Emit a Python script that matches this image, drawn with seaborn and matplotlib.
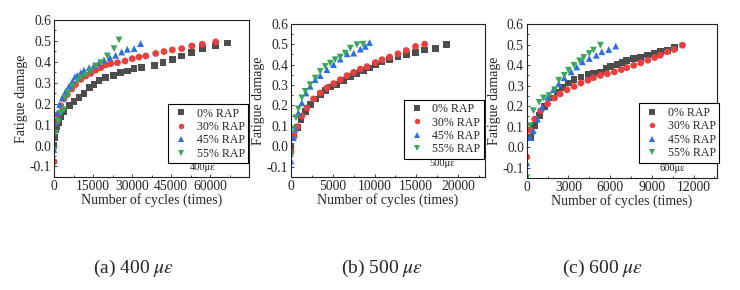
import numpy as np
import pandas as pd
import seaborn as sns
import matplotlib
matplotlib.use("Agg")
import matplotlib.pyplot as plt
from matplotlib.ticker import MultipleLocator

# ---- data: (cycles, fatigue damage) per RAP content ----
# 400 microstrain
c400_0 = [0, 300, 640, 1000, 1700, 2600, 3800, 5800, 7700, 9600, 11500, 13500, 15400, 17300, 19900,
          22800, 25600, 28200, 30800, 33700, 38800, 41900, 45500, 49100, 53000, 57000, 62000, 66700]
d400_0 = [0.0, 0.04, 0.075, 0.09, 0.11, 0.14, 0.163, 0.19, 0.21, 0.228, 0.25, 0.276, 0.292, 0.311, 0.324,
          0.335, 0.348, 0.356, 0.367, 0.372, 0.383, 0.396, 0.41, 0.428, 0.444, 0.463, 0.476, 0.49]
c400_30 = [0, 640, 1300, 2600, 3800, 5100, 6800, 8300, 10300, 12200, 14100, 16000, 18000, 19900, 21800,
           24400, 27300, 30100, 32700, 35300, 39100, 42300, 45500, 49100, 53000, 57000, 62200]
d400_30 = [-0.077, 0.107, 0.147, 0.19, 0.223, 0.244, 0.27, 0.292, 0.316, 0.332, 0.345, 0.36, 0.372, 0.385, 0.391,
           0.396, 0.404, 0.415, 0.423, 0.428, 0.44, 0.449, 0.457, 0.463, 0.476, 0.484, 0.495]
c400_45 = [0, 380, 1300, 2200, 3200, 4500, 5800, 7100, 8100, 9000, 10300, 11500, 13500, 15400, 17300,
           19200, 21500, 23700, 26000, 28200, 30800, 33300]
d400_45 = [-0.02, 0.107, 0.155, 0.196, 0.228, 0.26, 0.284, 0.308, 0.329, 0.335, 0.348, 0.36, 0.372, 0.383, 0.396,
           0.409, 0.42, 0.431, 0.447, 0.46, 0.463, 0.487]
c400_55 = [0, 640, 1700, 2600, 3800, 4200, 5500, 7100, 9000, 10300, 12200, 14100, 16000, 18000, 20500,
           23100, 25000]
d400_55 = [-0.02, 0.06, 0.115, 0.155, 0.171, 0.228, 0.252, 0.284, 0.308, 0.324, 0.335, 0.356, 0.38, 0.396, 0.428,
           0.463, 0.505]

# 500 microstrain
c500_0 = [0, 360, 760, 1200, 1700, 2300, 2900, 3500, 4100, 4700, 5500, 6300, 7100, 7900, 8700, 9400,
          10100, 10900, 11800, 12800, 13800, 14900, 16000, 17300, 18600]
d500_0 = [0.0, 0.05, 0.091, 0.131, 0.172, 0.205, 0.232, 0.253, 0.274, 0.29, 0.302, 0.321, 0.34, 0.356, 0.37, 0.383,
          0.40, 0.416, 0.427, 0.437, 0.448, 0.46, 0.472, 0.48, 0.5]
c500_30 = [0, 360, 760, 1300, 1900, 2700, 3500, 4300, 5100, 5900, 6700, 7500, 8300, 9100, 10100, 10900,
           11800, 12800, 13800, 14900, 16000]
d500_30 = [-0.028, 0.05, 0.096, 0.148, 0.188, 0.232, 0.261, 0.286, 0.307, 0.326, 0.346, 0.362, 0.378, 0.39, 0.41,
           0.424, 0.437, 0.453, 0.469, 0.489, 0.5]
c500_45 = [0, 280, 480, 880, 1300, 1800, 2300, 2900, 3500, 4300, 5100, 5900, 6700, 7500, 8300, 8900, 9400]
d500_45 = [-0.071, 0.042, 0.083, 0.164, 0.213, 0.261, 0.294, 0.326, 0.346, 0.375, 0.40, 0.427, 0.453, 0.456,
           0.476, 0.489, 0.508]
c500_55 = [0, 360, 600, 880, 1300, 1700, 2300, 2900, 3500, 4100, 4700, 5300, 5900, 6500, 7100, 7900, 8600]
d500_55 = [-0.047, 0.086, 0.14, 0.183, 0.237, 0.269, 0.302, 0.334, 0.367, 0.391, 0.407, 0.424, 0.437, 0.456,
           0.48, 0.497, 0.5]

# 600 microstrain
c600_0 = [290, 530, 900, 1300, 1700, 2200, 2600, 3000, 3400, 3900, 4400, 4800, 5300, 5700, 6000, 6500,
          6900, 7200, 7700, 8200, 8700, 9200, 9600, 10100, 10600]
d600_0 = [0.047, 0.105, 0.154, 0.198, 0.24, 0.268, 0.29, 0.313, 0.329, 0.342, 0.355, 0.362, 0.367, 0.383, 0.394,
          0.403, 0.411, 0.424, 0.432, 0.437, 0.449, 0.457, 0.465, 0.473, 0.484]
c600_30 = [0, 240, 580, 1000, 1500, 2000, 2400, 2900, 3400, 3900, 4400, 4800, 5300, 5800, 6300, 6800,
           7200, 7700, 8200, 8700, 9200, 9600, 10100, 10600, 11200]
d600_30 = [-0.047, 0.083, 0.137, 0.178, 0.211, 0.24, 0.26, 0.28, 0.296, 0.313, 0.326, 0.339, 0.35, 0.358, 0.367,
           0.378, 0.388, 0.399, 0.411, 0.424, 0.437, 0.448, 0.465, 0.476, 0.497]
c600_45 = [0, 240, 480, 770, 1100, 1500, 1900, 2300, 2700, 3200, 3600, 4000, 4500, 5000, 5400, 5900, 6400]
d600_45 = [-0.075, 0.047, 0.08, 0.137, 0.195, 0.244, 0.28, 0.309, 0.339, 0.367, 0.391, 0.416, 0.432, 0.448,
           0.465, 0.476, 0.493]
c600_55 = [0, 240, 480, 890, 1200, 1600, 2000, 2300, 2700, 3000, 3400, 3800, 4100, 4500, 4800, 5300]
d600_55 = [-0.149, 0.105, 0.178, 0.219, 0.24, 0.252, 0.28, 0.326, 0.35, 0.375, 0.399, 0.421, 0.437, 0.457,
           0.473, 0.497]

groups = ["0% RAP", "30% RAP", "45% RAP", "55% RAP"]
panels = [
    ("400\u03bc\u03b5", r"(a) 400 $\mu\varepsilon$",
     [(c400_0, d400_0), (c400_30, d400_30), (c400_45, d400_45), (c400_55, d400_55)]),
    ("500\u03bc\u03b5", r"(b) 500 $\mu\varepsilon$",
     [(c500_0, d500_0), (c500_30, d500_30), (c500_45, d500_45), (c500_55, d500_55)]),
    ("600\u03bc\u03b5", r"(c) 600 $\mu\varepsilon$",
     [(c600_0, d600_0), (c600_30, d600_30), (c600_45, d600_45), (c600_55, d600_55)]),
]

palette = {"0% RAP": "#4d4d4d", "30% RAP": "#e8403f", "45% RAP": "#2f6fdb", "55% RAP": "#3aa65c"}
markers = {"0% RAP": "s", "30% RAP": "o", "45% RAP": "^", "55% RAP": "v"}

sns.set_style("ticks")
plt.rcParams["font.family"] = ["Liberation Serif", "DejaVu Serif"]
plt.rcParams["mathtext.fontset"] = "stix"

fig = plt.figure(figsize=(7.4, 2.9), dpi=100)

# axes boxes (left, bottom, width, height) in figure fraction
boxes = [(0.073, 0.390, 0.2635, 0.541),
         (0.3932, 0.390, 0.262, 0.528),
         (0.7118, 0.386, 0.2574, 0.531)]
xlims = [75000, 23200, 13700]
xsteps = [15000, 5000, 3000]
leg_anchor = [(0.585, 0.465), (0.582, 0.505), (0.59, 0.485)]
note_pos = [(0.764, 0.057), (0.778, 0.085), (0.763, 0.065)]
cap_x = [0.181, 0.517, 0.814]

for i, (note, caption, series) in enumerate(panels):
    ax = fig.add_axes(boxes[i])
    rows = []
    for g, (xs, ys) in zip(groups, series):
        for x, y in zip(xs, ys):
            rows.append({"cycles": x, "damage": y, "group": g})
    df = pd.DataFrame(rows)
    sns.scatterplot(data=df, x="cycles", y="damage", hue="group", style="group",
                    palette=palette, markers=markers, hue_order=groups, style_order=groups,
                    s=24, linewidth=0, ax=ax)

    ax.set_xlim(0, xlims[i])
    ax.set_ylim(-0.15, 0.6)
    ax.xaxis.set_minor_locator(MultipleLocator(xsteps[i] / 2))
    ax.yaxis.set_minor_locator(MultipleLocator(0.05))
    ax.set_yticks([-0.1, 0.0, 0.1, 0.2, 0.3, 0.4, 0.5, 0.6])
    ax.set_yticklabels(["-0.1", "0.0", "0.1", "0.2", "0.3", "0.4", "0.5", "0.6"])
    xt = np.arange(0, xlims[i], xsteps[i])
    ax.set_xticks(xt)
    ax.set_xticklabels([str(int(v)) for v in xt])
    ax.tick_params(direction="in", which="both", labelsize=9.8, length=2.5, width=0.6, pad=2)
    ax.tick_params(which="minor", length=1.5)
    for sp in ax.spines.values():
        sp.set_linewidth(0.8)
        sp.set_color("#222222")
    ax.set_xlabel("Number of cycles (times)", fontsize=10, labelpad=0)
    ax.set_ylabel("Fatigue damage", fontsize=10, labelpad=1)

    leg = ax.legend(loc="upper left", bbox_to_anchor=leg_anchor[i], fontsize=8.6,
                    frameon=True, fancybox=False, edgecolor="black", framealpha=1,
                    handletextpad=0.5, labelspacing=0.12, borderpad=0.3,
                    handlelength=1.6, markerscale=0.8, borderaxespad=0)
    leg.get_frame().set_linewidth(0.8)
    ax.text(note_pos[i][0], note_pos[i][1], note, transform=ax.transAxes,
            fontsize=7.5, ha="center", va="center")

    fig.text(cap_x[i], 0.076, caption, fontsize=14, ha="center", va="center")

fig.savefig("out.png", dpi=100, facecolor="white")
